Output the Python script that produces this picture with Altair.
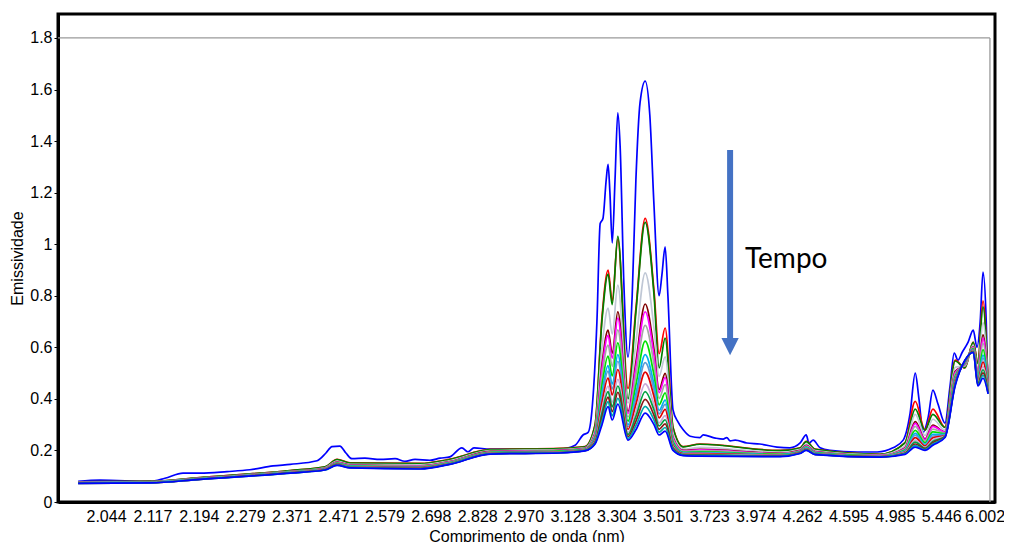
import altair as alt
import pandas as pd

# ---------------- data ----------------
TICK_LABELS = ["2.044", "2.117", "2.194", "2.279", "2.371", "2.471", "2.579", "2.698",
               "2.828", "2.970", "3.128", "3.304", "3.501", "3.723", "3.974", "4.262",
               "4.595", "4.985", "5.446", "6.002"]
# x positions are expressed in axis-label index units (1 = "2.044", 20 = "6.002")

# first (highest) spectrum, blue
TOP_U = [0.40, 0.87, 1.95, 2.27, 2.66, 3.03, 3.61, 4.10, 4.60, 4.97, 5.55, 5.74, 5.87, 6.04, 6.17,
         6.30, 6.58, 6.91, 7.23, 7.44, 7.66, 7.98, 8.20, 8.41, 8.67, 8.80, 8.93, 9.28, 10.78, 11.11,
         11.28, 11.39, 11.47, 11.58, 11.65, 11.71, 11.78, 11.82, 11.86, 11.91, 11.97, 12.03, 12.08,
         12.16, 12.25, 12.34, 12.42, 12.51, 12.62, 12.72, 12.81, 12.92, 12.98, 13.05, 13.11, 13.22,
         13.33, 13.44, 13.59, 13.80, 13.87, 14.13, 14.30, 14.38, 14.45, 14.56, 14.81, 15.09, 15.46,
         15.74, 15.96, 16.09, 16.15, 16.24, 16.39, 16.60, 17.19, 17.62, 17.96, 18.18, 18.33, 18.44,
         18.52, 18.61, 18.72, 18.82, 18.93, 19.08, 19.19, 19.28, 19.36, 19.45, 19.58, 19.69, 19.77,
         19.84, 19.90, 19.97, 20.01]
TOP_V = [0.08, 0.085, 0.08, 0.092, 0.112, 0.112, 0.118, 0.125, 0.14, 0.146, 0.16, 0.19, 0.215, 0.217,
         0.19, 0.168, 0.17, 0.165, 0.168, 0.158, 0.165, 0.162, 0.17, 0.175, 0.21, 0.195, 0.21, 0.205,
         0.205, 0.22, 0.26, 0.27, 0.35, 0.70, 1.08, 1.10, 1.25, 1.31, 1.20, 1.005, 1.25, 1.51, 1.38,
         0.85, 0.562, 0.80, 1.25, 1.55, 1.633, 1.50, 1.15, 0.80, 0.88, 0.99, 0.80, 0.357, 0.31, 0.28,
         0.255, 0.25, 0.26, 0.248, 0.244, 0.25, 0.237, 0.24, 0.229, 0.225, 0.213, 0.21, 0.229, 0.26,
         0.229, 0.24, 0.21, 0.20, 0.194, 0.194, 0.21, 0.24, 0.345, 0.50, 0.40, 0.27, 0.33, 0.434, 0.38,
         0.306, 0.45, 0.578, 0.55, 0.58, 0.62, 0.667, 0.60, 0.70, 0.892, 0.70, 0.42]

# shared x grid for the later spectra
GRID_U = [0.40, 1.95, 3.03, 4.97, 5.72, 5.98, 6.26, 7.77, 8.41, 9.28, 10.78, 11.32, 11.54, 11.69,
          11.82, 11.91, 12.03, 12.25, 12.42, 12.62, 12.81, 12.92, 13.05, 13.22, 13.44, 13.80, 15.53,
          15.96, 16.09, 16.28, 17.68, 18.22, 18.44, 18.65, 18.82, 19.08, 19.30, 19.51, 19.69, 19.79,
          19.90, 20.01]

S02 = [0.078, 0.080, 0.095, 0.122, 0.136, 0.165, 0.152, 0.150, 0.166, 0.204, 0.208, 0.215, 0.30, 0.72, 0.90, 0.78, 1.02, 0.44, 0.75, 1.10, 0.82, 0.575, 0.675, 0.29, 0.215, 0.225, 0.20, 0.21, 0.235, 0.205, 0.185, 0.23, 0.39, 0.28, 0.36, 0.29, 0.55, 0.52, 0.62, 0.54, 0.78, 0.46]
S03 = [0.078, 0.080, 0.095, 0.122, 0.136, 0.164, 0.151, 0.149, 0.165, 0.203, 0.207, 0.214, 0.298, 0.707, 0.884, 0.766, 1.03, 0.40, 0.736, 1.085, 0.804, 0.52, 0.636, 0.287, 0.214, 0.224, 0.199, 0.209, 0.234, 0.204, 0.185, 0.229, 0.36, 0.278, 0.34, 0.289, 0.547, 0.521, 0.619, 0.537, 0.757, 0.459]
S04 = [0.076, 0.078, 0.093, 0.119, 0.133, 0.159, 0.146, 0.144, 0.160, 0.199, 0.203, 0.210, 0.279, 0.602, 0.752, 0.651, 0.841, 0.384, 0.618, 0.889, 0.674, 0.487, 0.563, 0.265, 0.205, 0.212, 0.193, 0.204, 0.225, 0.199, 0.182, 0.217, 0.340, 0.258, 0.321, 0.279, 0.522, 0.528, 0.609, 0.515, 0.696, 0.449]
S05 = [0.075, 0.077, 0.092, 0.118, 0.131, 0.155, 0.143, 0.140, 0.157, 0.196, 0.200, 0.208, 0.267, 0.535, 0.667, 0.577, 0.738, 0.352, 0.543, 0.768, 0.591, 0.436, 0.499, 0.250, 0.200, 0.204, 0.189, 0.200, 0.220, 0.196, 0.180, 0.210, 0.312, 0.245, 0.298, 0.272, 0.506, 0.533, 0.602, 0.500, 0.648, 0.442]
S06 = [0.075, 0.077, 0.092, 0.117, 0.130, 0.154, 0.142, 0.139, 0.156, 0.195, 0.199, 0.207, 0.264, 0.518, 0.646, 0.558, 0.713, 0.344, 0.524, 0.738, 0.570, 0.424, 0.483, 0.247, 0.198, 0.202, 0.188, 0.199, 0.218, 0.195, 0.180, 0.208, 0.305, 0.242, 0.293, 0.271, 0.502, 0.534, 0.601, 0.497, 0.636, 0.441]
S07 = [0.075, 0.077, 0.091, 0.117, 0.129, 0.152, 0.141, 0.138, 0.155, 0.194, 0.198, 0.206, 0.259, 0.489, 0.609, 0.526, 0.668, 0.330, 0.492, 0.685, 0.534, 0.402, 0.455, 0.241, 0.196, 0.199, 0.187, 0.198, 0.216, 0.193, 0.179, 0.205, 0.293, 0.236, 0.283, 0.268, 0.495, 0.536, 0.598, 0.491, 0.615, 0.438]
S08 = [0.074, 0.076, 0.091, 0.116, 0.128, 0.151, 0.139, 0.136, 0.153, 0.193, 0.197, 0.204, 0.253, 0.455, 0.566, 0.489, 0.617, 0.314, 0.454, 0.624, 0.492, 0.377, 0.423, 0.233, 0.193, 0.195, 0.185, 0.196, 0.213, 0.192, 0.178, 0.202, 0.278, 0.230, 0.272, 0.265, 0.487, 0.539, 0.595, 0.483, 0.591, 0.435]
S09 = [0.074, 0.076, 0.090, 0.115, 0.128, 0.149, 0.138, 0.135, 0.152, 0.191, 0.195, 0.203, 0.248, 0.426, 0.529, 0.457, 0.572, 0.300, 0.421, 0.572, 0.456, 0.355, 0.395, 0.227, 0.191, 0.192, 0.183, 0.195, 0.211, 0.190, 0.177, 0.199, 0.266, 0.224, 0.262, 0.262, 0.480, 0.541, 0.592, 0.477, 0.570, 0.432]
S10 = [0.074, 0.076, 0.090, 0.115, 0.127, 0.148, 0.137, 0.134, 0.151, 0.191, 0.195, 0.202, 0.245, 0.409, 0.508, 0.438, 0.546, 0.292, 0.402, 0.541, 0.435, 0.342, 0.379, 0.223, 0.189, 0.190, 0.182, 0.194, 0.209, 0.189, 0.177, 0.197, 0.259, 0.221, 0.256, 0.260, 0.476, 0.542, 0.590, 0.473, 0.558, 0.430]
S11 = [0.073, 0.075, 0.089, 0.114, 0.127, 0.147, 0.136, 0.133, 0.150, 0.190, 0.194, 0.202, 0.241, 0.388, 0.481, 0.415, 0.514, 0.282, 0.379, 0.504, 0.409, 0.326, 0.359, 0.219, 0.187, 0.188, 0.181, 0.193, 0.207, 0.188, 0.176, 0.194, 0.250, 0.217, 0.249, 0.258, 0.471, 0.544, 0.588, 0.469, 0.543, 0.428]
S12 = [0.073, 0.075, 0.089, 0.114, 0.126, 0.145, 0.135, 0.131, 0.149, 0.189, 0.193, 0.201, 0.236, 0.363, 0.450, 0.387, 0.476, 0.270, 0.351, 0.458, 0.378, 0.307, 0.335, 0.214, 0.185, 0.185, 0.180, 0.191, 0.205, 0.187, 0.176, 0.192, 0.240, 0.212, 0.241, 0.256, 0.465, 0.545, 0.586, 0.464, 0.525, 0.426]
S13 = [0.073, 0.075, 0.089, 0.113, 0.125, 0.145, 0.134, 0.130, 0.148, 0.188, 0.192, 0.200, 0.233, 0.346, 0.428, 0.369, 0.450, 0.262, 0.332, 0.428, 0.357, 0.295, 0.319, 0.210, 0.184, 0.183, 0.179, 0.190, 0.204, 0.186, 0.175, 0.190, 0.232, 0.209, 0.235, 0.254, 0.461, 0.547, 0.584, 0.460, 0.513, 0.424]
S14 = [0.072, 0.074, 0.088, 0.113, 0.125, 0.144, 0.133, 0.130, 0.147, 0.187, 0.191, 0.199, 0.230, 0.329, 0.407, 0.350, 0.425, 0.254, 0.313, 0.398, 0.336, 0.282, 0.303, 0.206, 0.182, 0.181, 0.178, 0.190, 0.202, 0.185, 0.175, 0.188, 0.225, 0.206, 0.230, 0.253, 0.457, 0.548, 0.583, 0.456, 0.501, 0.423]
S15 = [0.072, 0.074, 0.088, 0.112, 0.124, 0.143, 0.133, 0.129, 0.147, 0.187, 0.191, 0.199, 0.228, 0.315, 0.389, 0.334, 0.402, 0.247, 0.296, 0.371, 0.318, 0.271, 0.289, 0.203, 0.181, 0.180, 0.177, 0.189, 0.201, 0.185, 0.174, 0.187, 0.219, 0.203, 0.225, 0.251, 0.454, 0.549, 0.581, 0.453, 0.491, 0.421]
S16 = [0.072, 0.074, 0.088, 0.112, 0.124, 0.142, 0.132, 0.128, 0.146, 0.186, 0.190, 0.198, 0.225, 0.30, 0.37, 0.318, 0.38, 0.24, 0.28, 0.345, 0.30, 0.26, 0.275, 0.20, 0.18, 0.178, 0.176, 0.188, 0.200, 0.184, 0.174, 0.185, 0.213, 0.20, 0.22, 0.25, 0.45, 0.55, 0.58, 0.45, 0.48, 0.42]

LATER = [S02, S03, S04, S05, S06, S07, S08, S09, S10, S11, S12, S13, S14, S15, S16]
COLORS = ["#0000FF", "#FF0000", "#008000", "#BFC7D5", "#800000", "#FF00FF", "#A6A6A6", "#00E000",
          "#00B0F0", "#5B9BD5", "#E00000", "#C8A8D8", "#00A040", "#8B1A1A", "#00A8A8", "#0000FF"]

# ---------------- build table ----------------
names = [f"t{i:02d}" for i in range(1, 17)]
rows = [{"u": u, "v": v, "serie": names[0]} for u, v in zip(TOP_U, TOP_V)]
for name, vals in zip(names[1:], LATER):
    assert len(vals) == len(GRID_U), name
    rows += [{"u": u, "v": v, "serie": name} for u, v in zip(GRID_U, vals)]
df = pd.DataFrame(rows)

X_DOMAIN = [-0.0345, 20.159]
Y_DOMAIN = [0, 1.893]
x_scale = alt.Scale(domain=X_DOMAIN, nice=False, zero=False)
y_scale = alt.Scale(domain=Y_DOMAIN, nice=False, zero=False)

label_expr = "[" + ",".join(f"'{t}'" for t in TICK_LABELS) + "][datum.value - 1]"

x_axis = alt.Axis(values=list(range(1, 21)), labelExpr=label_expr, title="Comprimento de onda (nm)",
                  tickSize=0, labelPadding=6, titlePadding=4, labelOverlap=False, labelFlush=False,
                  labelOffset={"condition": {"test": "datum.value == 20", "value": -3}, "value": 0})
y_axis = alt.Axis(values=[0, 0.2, 0.4, 0.6, 0.8, 1.0, 1.2, 1.4, 1.6, 1.8], format=".1~f",
                  title="Emissividade", tickSize=4, labelPadding=2, titlePadding=4)

lines = alt.Chart(df).mark_line(strokeWidth=1.7, interpolate="monotone", clip=True).encode(
    x=alt.X("u:Q", scale=x_scale, axis=x_axis),
    y=alt.Y("v:Q", scale=y_scale, axis=y_axis),
    color=alt.Color("serie:N", scale=alt.Scale(domain=names, range=COLORS), legend=None, sort=names),
)

# inner gray frame (plot-area border at 1.8 and right end)
frame_df = pd.DataFrame({"u0": [X_DOMAIN[0]], "u1": [20.05], "v0": [0.0], "v1": [1.8]})
frame_h = alt.Chart(frame_df).mark_rule(color="#9A9A9A", strokeWidth=1.3).encode(
    x=alt.X("u0:Q", scale=x_scale), x2="u1:Q", y=alt.Y("v1:Q", scale=y_scale))
frame_v = alt.Chart(frame_df).mark_rule(color="#9A9A9A", strokeWidth=1.3).encode(
    x=alt.X("u1:Q", scale=x_scale), y=alt.Y("v0:Q", scale=y_scale), y2="v1:Q")

# "Tempo" arrow annotation
ARROW = {"u": [14.45], "top": [1.365], "end": [0.628], "head": [0.603]}
arrow_df = pd.DataFrame(ARROW)
shaft = alt.Chart(arrow_df).mark_rule(color="#4472C4", strokeWidth=6).encode(
    x=alt.X("u:Q", scale=x_scale), y=alt.Y("top:Q", scale=y_scale), y2="end:Q")
head = alt.Chart(arrow_df).mark_point(shape="M-1,-1L1,-1L0,1Z", size=300, filled=True,
                                      color="#4472C4", opacity=1, strokeWidth=0).encode(
    x=alt.X("u:Q", scale=x_scale), y=alt.Y("head:Q", scale=y_scale))
label_df = pd.DataFrame({"u": [14.77], "v": [0.908], "txt": ["Tempo"]})
tempo = alt.Chart(label_df).mark_text(align="left", baseline="alphabetic", font="Lato",
                                      fontSize=28, color="black").encode(
    x=alt.X("u:Q", scale=x_scale), y=alt.Y("v:Q", scale=y_scale), text="txt:N")

chart = alt.layer(frame_h, frame_v, lines, shaft, head, tempo).properties(
    width=937, height=488,
    autosize=alt.AutoSizeParams(type="none"),
    padding={"left": 50, "top": 6, "right": 9, "bottom": 44},
    background="white",
).configure_view(stroke="black", strokeWidth=3).configure_axis(
    domainColor="black", domainWidth=3, tickColor="black", labelColor="black", titleColor="black",
    labelFont="Liberation Sans", titleFont="Liberation Sans", labelFontSize=16, titleFontSize=16,
    titleFontWeight="normal", grid=False,
)

chart.save("out.html", embed_options={"renderer": "svg", "actions": False})
